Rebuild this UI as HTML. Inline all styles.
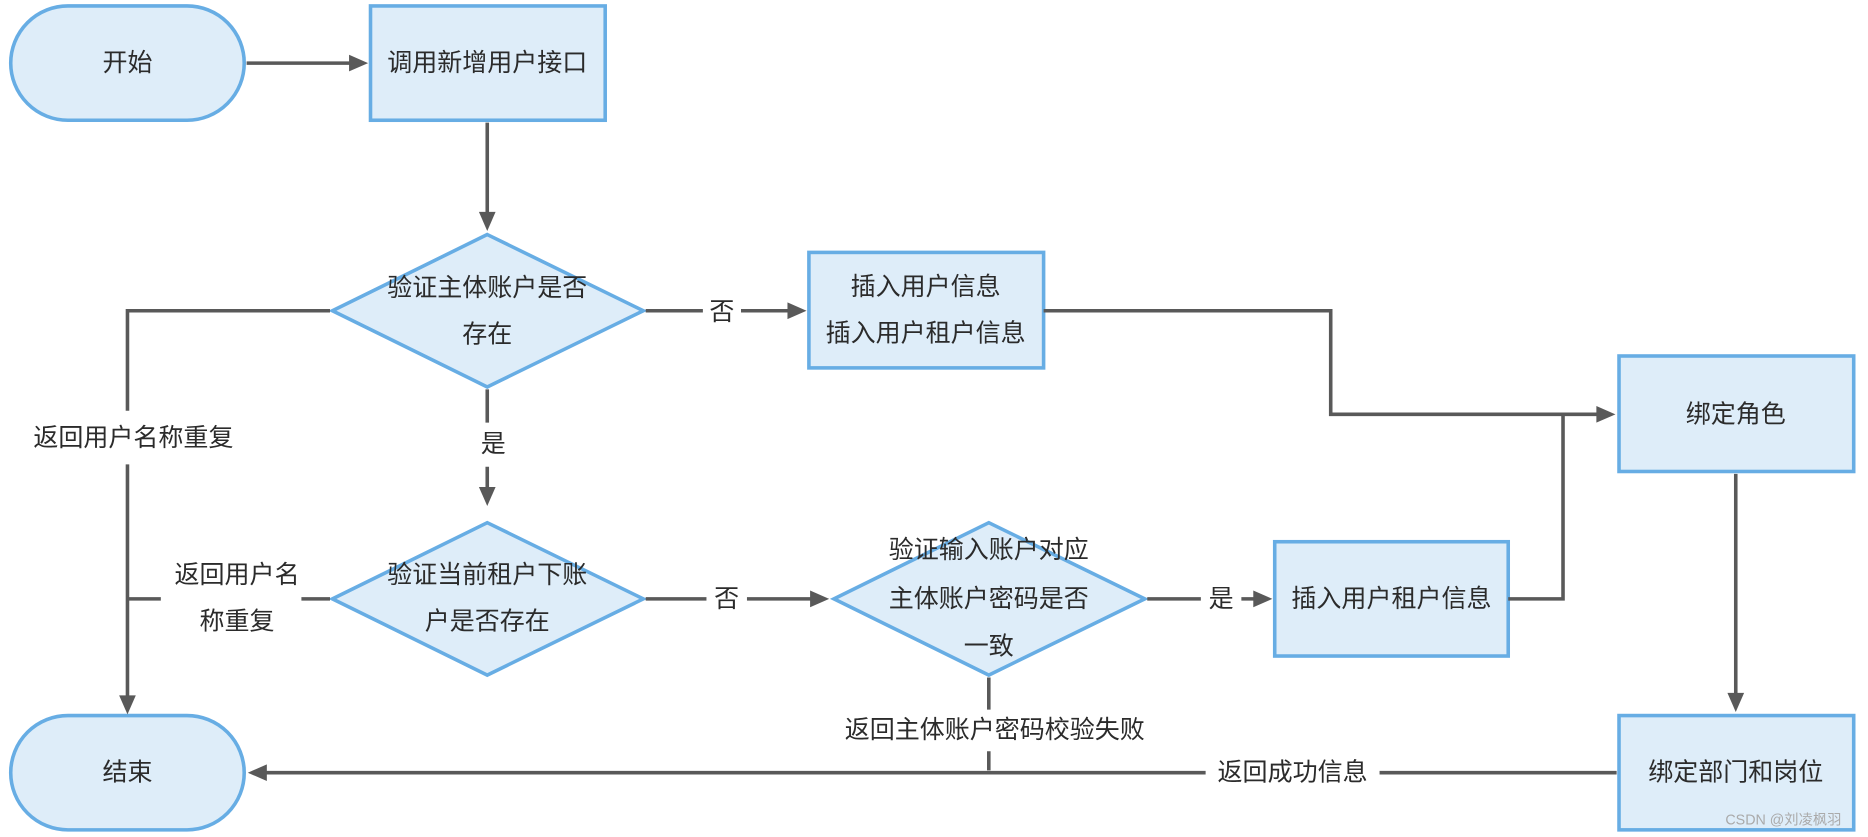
<!DOCTYPE html>
<html><head><meta charset="utf-8"><style>
html,body{margin:0;padding:0;background:#fff;}
svg{display:block;}
text{font-family:"Liberation Sans","Noto Sans CJK SC",sans-serif;font-size:21px;fill:#2b2b2b;text-anchor:middle;dominant-baseline:central;}
.s{fill:#deedf9;stroke:#67ade4;stroke-width:3;}
.l{stroke:#595959;stroke-width:3;fill:none;}
.a{fill:#595959;}
</style></head><body>
<svg width="1868" height="837" viewBox="0 0 1568 703" preserveAspectRatio="none" xmlns="http://www.w3.org/2000/svg">
<rect width="1568" height="703" fill="#fff"/>
<!-- shapes -->
<rect class="s" x="9" y="5" width="196" height="96" rx="48"/>
<rect class="s" x="311" y="5" width="197" height="96"/>
<polygon class="s" points="409,197 540,261 409,325 279,261"/>
<rect class="s" x="679" y="212" width="197" height="97"/>
<rect class="s" x="1359" y="299" width="197" height="97"/>
<polygon class="s" points="409,439 540,503 409,567 279,503"/>
<polygon class="s" points="830,439 961,503 830,567 700,503"/>
<rect class="s" x="1070" y="455" width="196" height="96"/>
<rect class="s" x="1359" y="601" width="197" height="96"/>
<rect class="s" x="9" y="601" width="196" height="96" rx="48"/>
<!-- lines -->
<path class="l" d="M207,53 H296"/><polygon class="a" points="309,53 293,46 293,60"/>
<path class="l" d="M409,103 V180"/><polygon class="a" points="409,194 402,178 416,178"/>
<path class="l" d="M277,261 H107 V345 M107,390 V586"/><polygon class="a" points="107,600 100,584 114,584"/>
<path class="l" d="M542,261 H590 M622,261 H664"/><polygon class="a" points="677,261 661,254 661,268"/>
<path class="l" d="M876,261 H1117 V348 H1342"/><polygon class="a" points="1356,348 1340,341 1340,355"/>
<path class="l" d="M409,327 V355 M409,392 V411"/><polygon class="a" points="409,425 402,409 416,409"/>
<path class="l" d="M277,503 H253 M135,503 H107"/>
<path class="l" d="M542,503 H593 M627,503 H682"/><polygon class="a" points="696,503 680,496 680,510"/>
<path class="l" d="M963,503 H1008 M1042,503 H1054"/><polygon class="a" points="1068,503 1052,496 1052,510"/>
<path class="l" d="M1266,503 H1312 V348"/>
<path class="l" d="M1457,398 V584"/><polygon class="a" points="1457,598 1450,582 1464,582"/>
<path class="l" d="M830,569 V596 M830,631 V647"/>
<path class="l" d="M1357,649 H1158 M1012,649 H222"/><polygon class="a" points="208,649 224,642 224,656"/>
<!-- labels -->
<text x="107" y="53">开始</text>
<text x="409" y="53">调用新增用户接口</text>
<text x="409" y="242">验证主体账户是否</text>
<text x="409" y="281">存在</text>
<text x="777" y="241">插入用户信息</text>
<text x="777" y="280">插入用户租户信息</text>
<text x="606" y="262">否</text>
<text x="1457" y="348">绑定角色</text>
<text x="112" y="368">返回用户名称重复</text>
<text x="414" y="373">是</text>
<text x="199" y="483">返回用户名</text>
<text x="199" y="522">称重复</text>
<text x="409" y="483">验证当前租户下账</text>
<text x="409" y="522">户是否存在</text>
<text x="610" y="503">否</text>
<text x="830" y="462">验证输入账户对应</text>
<text x="830" y="503">主体账户密码是否</text>
<text x="830" y="543">一致</text>
<text x="1025" y="503">是</text>
<text x="1168" y="503">插入用户租户信息</text>
<text x="835" y="613">返回主体账户密码校验失败</text>
<text x="1085" y="649">返回成功信息</text>
<text x="1457" y="649">绑定部门和岗位</text>
<text x="107" y="649">结束</text>
<text x="1497" y="689" style="font-size:12px;fill:#aaa;">CSDN @刘凌枫羽</text>
</svg>
</body></html>
